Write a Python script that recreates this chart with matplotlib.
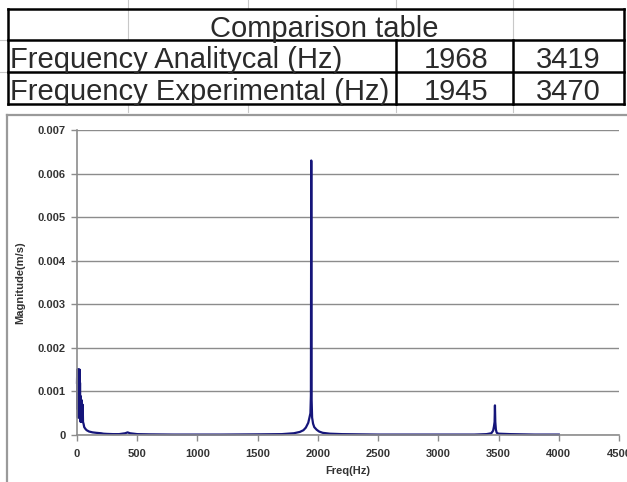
import matplotlib
matplotlib.use("Agg")
import matplotlib.pyplot as plt
from matplotlib.lines import Line2D

# ---------------- data ----------------
table_title = "Comparison table"
row_labels = ["Frequency Analitycal (Hz)", "Frequency Experimental (Hz)"]
mode1 = ["1968", "1945"]
mode2 = ["3419", "3470"]

freq = [0, 2, 4, 5, 7, 8, 10, 12, 13, 15, 17, 18, 20, 22, 23, 25, 27, 28, 30, 32, 33,
        35, 37, 38, 40, 42, 43, 45, 47, 48, 50, 55, 60, 70, 80, 100, 130, 160, 200,
        220, 250, 300, 350, 400, 420, 440,
        500, 600, 800, 1000, 1200, 1500, 1700, 1800, 1850, 1880, 1900, 1920, 1930,
        1938, 1942, 1945, 1948, 1952, 1960, 1970, 1990, 2010, 2040, 2100, 2200,
        2500, 3000, 3300, 3400, 3440, 3455, 3462, 3467, 3470, 3473, 3478, 3485,
        3500, 3600, 3800, 4000]
mag = [0.0012, 0.0015, 0.0006, 0.0015, 0.0004, 0.0015, 0.0006, 0.0015, 0.0005, 0.0014,
       0.0004, 0.0015, 0.0007, 0.0015, 0.0004, 0.0012, 0.0004, 0.0009, 0.0003, 0.0008,
       0.0004, 0.0008, 0.0003, 0.0008, 0.0004, 0.0007, 0.0003, 0.0007, 0.00035, 0.0006,
       0.0003, 0.00025, 0.00018, 0.00014, 0.00011, 0.00008, 0.00006, 0.00005, 0.00004,
       0.00003, 0.000025, 0.00002, 0.00002, 0.00004, 0.00006, 0.00004,
       0.00002, 0.000015, 0.00001, 0.00001, 0.00001, 0.000015, 0.00002, 0.00004,
       0.00007, 0.00011, 0.00017, 0.00028, 0.0004,
       0.0005, 0.0009, 0.0063, 0.0008, 0.0004, 0.00026, 0.00018, 0.00012, 0.00008,
       0.00005, 0.00003, 0.00002,
       0.00001, 0.00001, 0.00001, 0.00002, 0.00004, 0.0001, 0.0002, 0.0003, 0.00068,
       0.0003, 0.00012, 0.00005,
       0.00003, 0.00002, 0.00001, 0.00001]

yticks = [0, 0.001, 0.002, 0.003, 0.004, 0.005, 0.006, 0.007]
ytick_labels = ["0", "0.001", "0.002", "0.003", "0.004", "0.005", "0.006", "0.007"]
xticks = [0, 500, 1000, 1500, 2000, 2500, 3000, 3500, 4000, 4500]
xlabel = "Freq(Hz)"
ylabel = "Magnitude(m/s)"

# ---------------- figure ----------------
W, H = 627, 482
fig = plt.figure(figsize=(W / 100, H / 100), dpi=100)
fig.patch.set_facecolor("white")
plt.rcParams["font.family"] = ["Liberation Sans", "DejaVu Sans"]


def fx(px):
    return px / W


def fy(py):
    return 1 - py / H


def line(x0, y0, x1, y1, color="black", lw=2.0):
    fig.add_artist(Line2D([fx(x0), fx(x1)], [fy(y0), fy(y1)], color=color, lw=lw,
                          transform=fig.transFigure, solid_capstyle="projecting"))


# spreadsheet light grid lines
light = "#c8c8c8"
for gx in [128, 248, 396, 513]:
    line(gx, 0, gx, 9, color=light, lw=0.8)
    line(gx, 104, gx, 112, color=light, lw=0.8)
for gx in [128, 513]:
    line(gx, 9, gx, 40, color=light, lw=0.8)
for gy in [40, 72]:
    line(0, gy, 8, gy, color=light, lw=0.8)

# table borders
lw_t = 1.8
line(8, 9, 624, 9, lw=lw_t)
line(8, 40, 624, 40, lw=lw_t)
line(8, 72, 624, 72, lw=lw_t)
line(8, 104, 624, 104, lw=lw_t)
line(8, 9, 8, 104, lw=lw_t)
line(624, 9, 624, 104, lw=lw_t)
line(396, 40, 396, 104, lw=lw_t)
line(513, 40, 513, 104, lw=lw_t)

tfs = 21
tcol = "#2a2a2a"
fig.text(fx(324), fy(37), table_title, ha="center", va="baseline", fontsize=tfs, color=tcol)
for i, yb in enumerate([68, 100]):
    fig.text(fx(10), fy(yb), row_labels[i], ha="left", va="baseline", fontsize=tfs, color=tcol)
    fig.text(fx(456), fy(yb), mode1[i], ha="center", va="baseline", fontsize=tfs, color=tcol)
    fig.text(fx(568), fy(yb), mode2[i], ha="center", va="baseline", fontsize=tfs, color=tcol)

# chart area border
line(7, 115, 640, 115, color="#9a9a9a", lw=1.6)
line(7, 115, 7, 490, color="#9a9a9a", lw=1.6)

# ---------------- axes ----------------
ax = fig.add_axes([fx(77), fy(435), fx(619) - fx(77), fy(130) - fy(435)])
ax.set_facecolor("white")
ax.set_xlim(0, 4500)
ax.set_ylim(0, 0.007)
ax.set_yticks(yticks)
ax.set_yticklabels(ytick_labels)
ax.set_xticks(xticks)
ax.yaxis.grid(True, color="#8c8c8c", lw=1.0)
ax.set_axisbelow(True)
for s in ["top", "right"]:
    ax.spines[s].set_visible(False)
for s in ["left", "bottom"]:
    ax.spines[s].set_color("#8c8c8c")
    ax.spines[s].set_linewidth(1.2)
ax.tick_params(axis="both", colors="#8c8c8c", labelcolor="#333333", labelsize=8,
               length=4, width=1.0, direction="out")
for lab in ax.get_xticklabels() + ax.get_yticklabels():
    lab.set_fontweight("bold")
ax.tick_params(axis="x", pad=6)
ax.tick_params(axis="y", pad=4)

ax.plot(freq, mag, color="#15157a", lw=1.6, clip_on=False)

ax.set_xlabel(xlabel, fontsize=8, fontweight="bold", color="#333333", labelpad=5)
ax.set_ylabel(ylabel, fontsize=8, fontweight="bold", color="#333333", labelpad=9)

fig.savefig("out.png", dpi=100, facecolor="white")
